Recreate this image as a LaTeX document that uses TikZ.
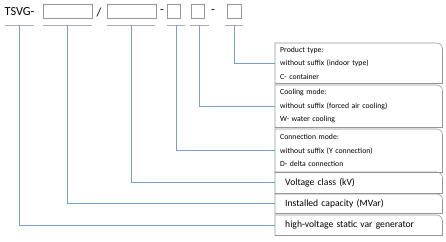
\documentclass[tikz,border=0pt]{standalone}
\usepackage{fontspec}
\setmainfont{Carlito}

\definecolor{linkblue}{RGB}{120, 160, 210}
\definecolor{boxgray}{RGB}{150, 150, 150}

\begin{document}
\begin{tikzpicture}[x = 0.03cm, y = -0.03cm,
        slot/.style = {draw = boxgray, line width = 0.5pt, minimum height = 0.42cm, inner sep = 0},
        under/.style = {draw = boxgray!80, line width = 0.6pt},
        link/.style = {draw = linkblue, line width = 0.7pt},
        frame/.style = {draw = boxgray, line width = 0.5pt},
        panel/.style = {anchor = north west, align = left, inner ysep = 0,
            font = \fontsize{6.6}{11.5}\selectfont, inner xsep = 0.15cm, text width = 4.71cm},
        label/.style = {panel, font = \fontsize{8.2}{10}\selectfont, inner xsep = 0.3cm, text width = 4.41cm}]
        \useasboundingbox (0, 0) rectangle (446, 241);

        % type code along the top
        \node (tsvg) at (19.5, 12) {\fontsize{10.5}{12}\selectfont TSVG-};
        \node [slot, minimum width = 1.47cm] (cap box) at (67.5, 11) {};
        \node (slash) at (99, 12) {\fontsize{10.5}{12}\selectfont /};
        \node [slot, minimum width = 1.47cm] (volt box) at (131.5, 11) {};
        \node (dash a) at (162, 12) {\fontsize{10.5}{12}\selectfont -};
        \node [slot, minimum width = 0.39cm] (conn box) at (173.5, 11) {};
        \node [slot, minimum width = 0.39cm] (cool box) at (197.5, 11) {};
        \node (dash b) at (213, 12) {\fontsize{10.5}{12}\selectfont -};
        \node [slot, minimum width = 0.42cm] (type box) at (234, 11) {};

        % lines under each field
        \draw [under] (5, 25) -- (34, 25) coordinate [midway] (u tsvg);
        \draw [under] (43, 25) -- (92, 25) coordinate [midway] (u cap);
        \draw [under] (107, 25) -- (155, 25) coordinate [midway] (u volt);
        \draw [under] (167, 25) -- (185, 25) coordinate [midway] (u conn);
        \draw [under] (190, 25) -- (209, 25) coordinate [midway] (u cool);
        \draw [under] (225, 25) -- (243, 25) coordinate [midway] (u type);

        % explanation boxes on the right
        \node [panel, minimum height = 1.2cm] (ptype) at (275, 43)
            {Product type:\\without suffix (indoor type)\\C- container};
        \node [panel, minimum height = 1.26cm] (cool) at (275, 85)
            {Cooling mode:\\without suffix (forced air cooling)\\W- water cooling};
        \node [panel, minimum height = 1.29cm] (conn) at (275, 129)
            {Connection mode:\\without suffix (Y connection)\\D- delta connection};
        \node [label, minimum height = 0.63cm] (volt) at (275, 172) {Voltage class (kV)};
        \node [label, minimum height = 0.57cm] (cap) at (275, 194) {Installed capacity (MVar)};
        \node [label, minimum height = 0.6cm] (hv) at (275, 215) {high-voltage static var generator};

        \foreach \p in {ptype, cool, conn, volt, cap, hv}
            \draw [frame] (\p.south west) -- (\p.north west) -- ([xshift = -5pt] \p.north east)
                arc [start angle = 90, end angle = 0, radius = 5pt] -- (\p.south east) -- cycle;

        % leaders from the fields to the boxes
        \draw [link] (u type) |- (ptype.west);
        \draw [link] (u cool) |- (cool.west);
        \draw [link] (u conn) |- (conn.west);
        \draw [link] (u volt) |- (volt.west);
        \draw [link] (u cap) |- (cap.west);
        \draw [link] (u tsvg) |- (hv.west);
    \end{tikzpicture}
\end{document}
